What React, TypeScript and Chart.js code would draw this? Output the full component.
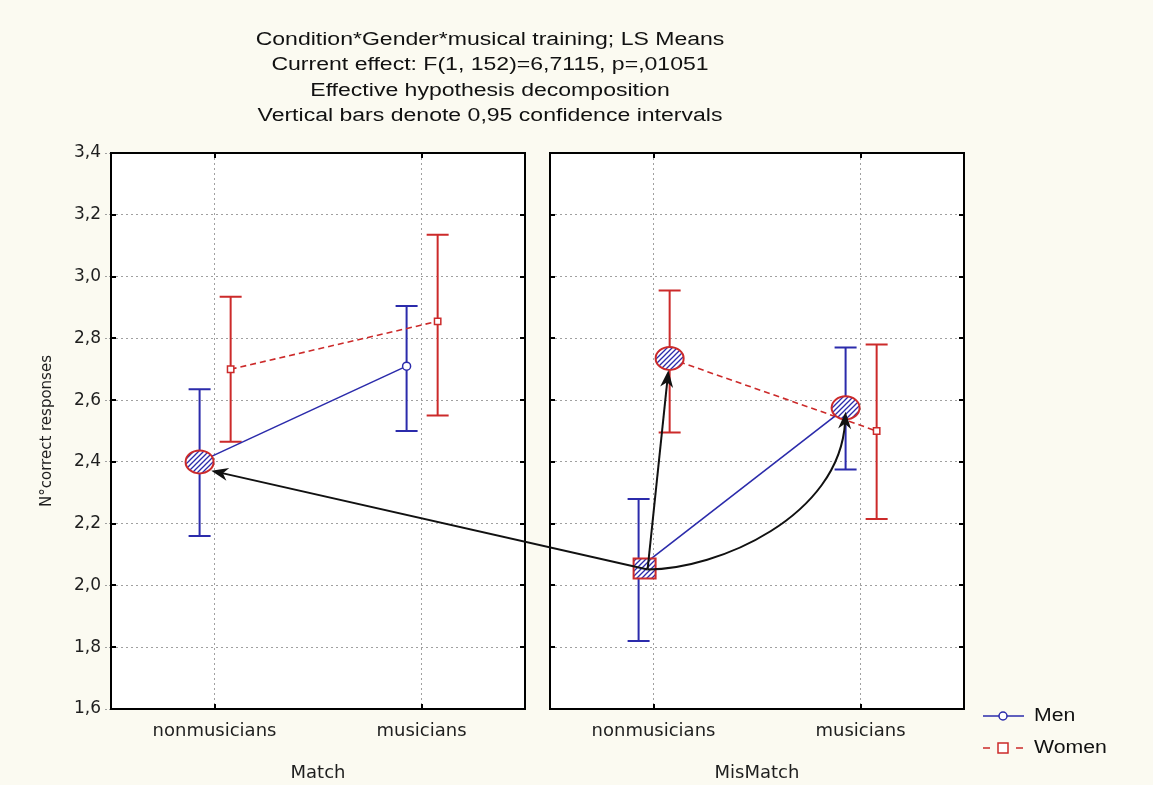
import React, { useEffect, useRef } from 'react';
import { Chart, registerables } from 'chart.js';

Chart.register(...registerables);

// ---------------- data ----------------
const TITLE_LINES = [
  'Condition*Gender*musical training; LS Means',
  'Current effect: F(1, 152)=6,7115, p=,01051',
  'Effective hypothesis decomposition',
  'Vertical bars denote 0,95 confidence intervals',
];
const CATEGORIES = ['nonmusicians', 'musicians'];
const CONDITIONS = ['Match', 'MisMatch'];
const GENDERS = ['Men', 'Women'];
const Y_TICKS = [1.6, 1.8, 2.0, 2.2, 2.4, 2.6, 2.8, 3.0, 3.2, 3.4];
const Y_TITLE = 'N°correct responses';

const MEN_MATCH = [2.40, 2.71];
const MEN_MATCH_LO = [2.16, 2.50];
const MEN_MATCH_HI = [2.635, 2.905];
const WOMEN_MATCH = [2.70, 2.855];
const WOMEN_MATCH_LO = [2.465, 2.55];
const WOMEN_MATCH_HI = [2.935, 3.135];

const MEN_MISMATCH = [2.055, 2.575];
const MEN_MISMATCH_LO = [1.82, 2.375];
const MEN_MISMATCH_HI = [2.28, 2.77];
const WOMEN_MISMATCH = [2.735, 2.50];
const WOMEN_MISMATCH_LO = [2.495, 2.215];
const WOMEN_MISMATCH_HI = [2.955, 2.78];

// highlighted means (hatched markers) and arrows annotating the figure
const HIGHLIGHTS = [
  { condition: 'Match', gender: 'Men', category: 0, shape: 'circle' },
  { condition: 'MisMatch', gender: 'Women', category: 0, shape: 'circle' },
  { condition: 'MisMatch', gender: 'Men', category: 1, shape: 'circle' },
  { condition: 'MisMatch', gender: 'Men', category: 0, shape: 'square' },
];
const ARROWS = [
  { from: ['MisMatch', 'Men', 0], to: ['Match', 'Men', 0], curved: false },
  { from: ['MisMatch', 'Men', 0], to: ['MisMatch', 'Women', 0], curved: false },
  { from: ['MisMatch', 'Men', 0], to: ['MisMatch', 'Men', 1], curved: true },
];

const SERIES: any = {
  Match: {
    Men: { mean: MEN_MATCH, lo: MEN_MATCH_LO, hi: MEN_MATCH_HI },
    Women: { mean: WOMEN_MATCH, lo: WOMEN_MATCH_LO, hi: WOMEN_MATCH_HI },
  },
  MisMatch: {
    Men: { mean: MEN_MISMATCH, lo: MEN_MISMATCH_LO, hi: MEN_MISMATCH_HI },
    Women: { mean: WOMEN_MISMATCH, lo: WOMEN_MISMATCH_LO, hi: WOMEN_MISMATCH_HI },
  },
};

// ---------------- styles ----------------
const W = 1153;
const H = 785;
const BG = '#fbfaf1';
const BLUE = '#2b2bab';
const RED = '#cc2a2a';
const GRID = '#a0a0a0';
const TEXT = '#1e1e1e';
const GENDER_OFFSET: any = { Men: -0.072, Women: 0.078 };
const PANEL_TOP = 153;
const PANEL_BOTTOM = 709;
const LEFT_PANEL = [111, 525];
const RIGHT_PANEL = [550, 964];

function buildDatasets(cond: string) {
  return GENDERS.map((g) => {
    const s = SERIES[cond][g];
    const men = g === 'Men';
    const color = men ? BLUE : RED;
    return {
      label: g,
      data: s.mean.map((v: number, i: number) => ({ x: i + GENDER_OFFSET[g], y: v })),
      ciLow: s.lo,
      ciHigh: s.hi,
      borderColor: color,
      backgroundColor: '#ffffff',
      borderWidth: 1.6,
      borderDash: men ? [] : [6, 4],
      pointStyle: men ? 'circle' : 'rect',
      pointRadius: men ? 4 : 4.5,
      pointBorderWidth: 1.5,
      pointBackgroundColor: '#ffffff',
      pointBorderColor: color,
      tension: 0,
      fill: false,
    };
  });
}

function pointPx(chart: any, gender: string, cat: number) {
  const ds = chart.data.datasets.find((d: any) => d.label === gender);
  const p = ds.data[cat];
  return { x: chart.scales.x.getPixelForValue(p.x), y: chart.scales.y.getPixelForValue(p.y) };
}

function makeHatch(ctx: CanvasRenderingContext2D) {
  const c = document.createElement('canvas');
  c.width = 5;
  c.height = 5;
  const g = c.getContext('2d')!;
  g.fillStyle = '#ffffff';
  g.fillRect(0, 0, 5, 5);
  g.strokeStyle = BLUE;
  g.lineWidth = 1.3;
  g.beginPath();
  g.moveTo(0, 5);
  g.lineTo(5, 0);
  g.moveTo(-1, 1);
  g.lineTo(1, -1);
  g.moveTo(4, 6);
  g.lineTo(6, 4);
  g.stroke();
  return ctx.createPattern(c, 'repeat');
}

function stretchedText(ctx: CanvasRenderingContext2D, text: string, x: number, y: number, align: string, font: string, sx: number, color: string) {
  ctx.save();
  ctx.font = font;
  ctx.fillStyle = color;
  ctx.textBaseline = 'middle';
  ctx.textAlign = 'left';
  const w = ctx.measureText(text).width * sx;
  const left = align === 'center' ? x - w / 2 : x;
  ctx.translate(left, y);
  ctx.scale(sx, 1);
  ctx.fillText(text, 0, 0);
  ctx.restore();
}

function arrowHead(ctx: CanvasRenderingContext2D, tip: any, from: any) {
  const a = Math.atan2(tip.y - from.y, tip.x - from.x);
  const L = 17;
  const Wd = 6.5;
  const c = Math.cos(a);
  const s = Math.sin(a);
  ctx.beginPath();
  ctx.moveTo(tip.x, tip.y);
  ctx.lineTo(tip.x - L * c + Wd * s, tip.y - L * s - Wd * c);
  ctx.lineTo(tip.x - L * c * 0.7, tip.y - L * s * 0.7);
  ctx.lineTo(tip.x - L * c - Wd * s, tip.y - L * s + Wd * c);
  ctx.closePath();
  ctx.fill();
}

function panelPlugin(cond: string) {
  return {
    id: 'panel' + cond,
    beforeDraw(chart: any) {
      const { ctx, chartArea: a } = chart;
      ctx.save();
      ctx.fillStyle = '#ffffff';
      ctx.fillRect(a.left, a.top, a.right - a.left, a.bottom - a.top);
      ctx.restore();
    },
    beforeDatasetsDraw(chart: any) {
      const { ctx } = chart;
      const { x, y } = chart.scales;
      chart.data.datasets.forEach((ds: any) => {
        ds.data.forEach((p: any, i: number) => {
          const px = x.getPixelForValue(p.x);
          const yl = y.getPixelForValue(ds.ciLow[i]);
          const yh = y.getPixelForValue(ds.ciHigh[i]);
          ctx.save();
          ctx.strokeStyle = ds.borderColor;
          ctx.lineWidth = 2;
          ctx.beginPath();
          ctx.moveTo(px, yl);
          ctx.lineTo(px, yh);
          ctx.moveTo(px - 11, yl);
          ctx.lineTo(px + 11, yl);
          ctx.moveTo(px - 11, yh);
          ctx.lineTo(px + 11, yh);
          ctx.stroke();
          ctx.restore();
        });
      });
    },
    afterDatasetsDraw(chart: any) {
      const { ctx } = chart;
      const hatch = makeHatch(ctx);
      HIGHLIGHTS.filter((h) => h.condition === cond).forEach((h) => {
        const p = pointPx(chart, h.gender, h.category);
        ctx.save();
        ctx.fillStyle = hatch as any;
        ctx.strokeStyle = RED;
        ctx.lineWidth = 2;
        ctx.beginPath();
        if (h.shape === 'circle') {
          ctx.ellipse(p.x, p.y, 14, 11.5, 0, 0, Math.PI * 2);
        } else {
          ctx.rect(p.x - 5, p.y - 10, 22, 20);
        }
        ctx.fill();
        ctx.stroke();
        ctx.restore();
      });
    },
    afterDraw(chart: any) {
      const { ctx, chartArea: a } = chart;
      const { x, y } = chart.scales;
      ctx.save();
      ctx.strokeStyle = '#000';
      ctx.lineWidth = 2;
      ctx.strokeRect(a.left, a.top, a.right - a.left, a.bottom - a.top);
      ctx.beginPath();
      Y_TICKS.slice(1, -1).forEach((v) => {
        const py = Math.round(y.getPixelForValue(v));
        ctx.moveTo(a.left, py);
        ctx.lineTo(a.left + 5, py);
        ctx.moveTo(a.right, py);
        ctx.lineTo(a.right - 5, py);
      });
      CATEGORIES.forEach((_, i) => {
        const px = Math.round(x.getPixelForValue(i));
        ctx.moveTo(px, a.top);
        ctx.lineTo(px, a.top + 5);
        ctx.moveTo(px, a.bottom);
        ctx.lineTo(px, a.bottom - 5);
      });
      ctx.stroke();
      ctx.restore();
    },
  };
}

function overlayPlugin(getOther: () => any) {
  return {
    id: 'overlay',
    afterDraw(chart: any) {
      const { ctx } = chart;
      // title
      TITLE_LINES.forEach((t, i) => {
        stretchedText(ctx, t, 490, 40 + i * 25.3, 'center', '18px "Liberation Sans", Arial, sans-serif', 1.28, '#111');
      });
      // legend
      ctx.save();
      ctx.lineWidth = 1.5;
      ctx.strokeStyle = BLUE;
      ctx.beginPath();
      ctx.moveTo(983, 716);
      ctx.lineTo(1024, 716);
      ctx.stroke();
      ctx.fillStyle = '#fff';
      ctx.beginPath();
      ctx.arc(1003, 716, 4, 0, Math.PI * 2);
      ctx.fill();
      ctx.stroke();
      ctx.strokeStyle = RED;
      ctx.beginPath();
      ctx.moveTo(983, 748);
      ctx.lineTo(990, 748);
      ctx.moveTo(1016, 748);
      ctx.lineTo(1023, 748);
      ctx.stroke();
      ctx.fillRect(998, 743, 10, 10);
      ctx.strokeRect(998, 743, 10, 10);
      ctx.restore();
      stretchedText(ctx, 'Men', 1034, 716, 'left', '18px "Liberation Sans", Arial, sans-serif', 1.18, '#111');
      stretchedText(ctx, 'Women', 1034, 748, 'left', '18px "Liberation Sans", Arial, sans-serif', 1.18, '#111');

      // arrows
      const other = getOther();
      const charts: any = { MisMatch: chart, Match: other };
      ctx.save();
      ctx.strokeStyle = '#111';
      ctx.fillStyle = '#111';
      ctx.lineWidth = 2;
      ARROWS.forEach((ar) => {
        const f = pointPx(charts[ar.from[0] as string], ar.from[1] as string, ar.from[2] as number);
        const t = pointPx(charts[ar.to[0] as string], ar.to[1] as string, ar.to[2] as number);
        const start = { x: f.x + 9, y: f.y + 1 };
        if (!ar.curved) {
          const dx = start.x - t.x;
          const dy = start.y - t.y;
          const len = Math.hypot(dx, dy);
          const tip = { x: t.x + (dx / len) * 12, y: t.y + (dy / len) * 12 + (Math.abs(dx) > Math.abs(dy) ? 6 : 0) };
          const a = Math.atan2(tip.y - start.y, tip.x - start.x);
          ctx.beginPath();
          ctx.moveTo(start.x, start.y);
          ctx.lineTo(tip.x - Math.cos(a) * 10, tip.y - Math.sin(a) * 10);
          ctx.stroke();
          arrowHead(ctx, tip, start);
        } else {
          const tip = { x: t.x, y: t.y + 4 };
          const c1 = { x: start.x + 70, y: start.y };
          const c2 = { x: tip.x - 6, y: tip.y + 105 };
          ctx.beginPath();
          ctx.moveTo(start.x, start.y);
          ctx.bezierCurveTo(c1.x, c1.y, c2.x, c2.y, tip.x - 0.5, tip.y + 10);
          ctx.stroke();
          arrowHead(ctx, tip, c2);
        }
      });
      ctx.restore();
    },
  };
}

function buildConfig(cond: string, isLeft: boolean, plugins: any[]) {
  const panel = isLeft ? LEFT_PANEL : RIGHT_PANEL;
  return {
    type: 'line',
    data: { datasets: buildDatasets(cond) },
    options: {
      responsive: false,
      animation: false,
      devicePixelRatio: 1,
      layout: { padding: { left: 0, right: W - panel[1], top: PANEL_TOP, bottom: 0 } },
      plugins: {
        legend: { display: false },
        tooltip: { enabled: false },
        title: { display: false },
      },
      scales: {
        x: {
          type: 'linear',
          min: -0.5,
          max: 1.5,
          afterBuildTicks: (s: any) => {
            s.ticks = CATEGORIES.map((_, i) => ({ value: i }));
          },
          afterFit: (s: any) => {
            s.height = H - PANEL_BOTTOM;
          },
          ticks: {
            autoSkip: false,
            maxRotation: 0,
            callback: (v: any) => CATEGORIES[Number(v)],
            font: { family: '"DejaVu Sans", sans-serif', size: 18 },
            color: TEXT,
            padding: 12,
          },
          grid: { color: GRID, lineWidth: 1, drawTicks: false },
          border: { display: false, dash: [2, 3] },
          title: {
            display: true,
            text: cond,
            font: { family: '"DejaVu Sans", sans-serif', size: 18 },
            color: TEXT,
            padding: { top: 4, bottom: 1 },
          },
        },
        y: {
          min: 1.6,
          max: 3.4,
          afterBuildTicks: (s: any) => {
            s.ticks = Y_TICKS.map((v) => ({ value: v }));
          },
          afterFit: (s: any) => {
            s.width = panel[0];
          },
          ticks: {
            display: isLeft,
            callback: (v: any) => Number(v).toFixed(1).replace('.', ','),
            font: { family: '"DejaVu Sans", sans-serif', size: 17 },
            color: TEXT,
            padding: 4,
          },
          grid: {
            color: GRID,
            lineWidth: 1,
            drawTicks: isLeft,
            tickLength: 6,
            tickColor: GRID,
            tickBorderDash: [2, 2],
          },
          border: { display: false, dash: [2, 3] },
          title: {
            display: isLeft,
            text: Y_TITLE,
            font: { family: '"DejaVu Sans", sans-serif', size: 15 },
            color: TEXT,
            padding: { top: 38, bottom: 0 },
          },
        },
      },
    },
    plugins,
  } as any;
}

export default function App() {
  const aRef = useRef<HTMLCanvasElement>(null);
  const bRef = useRef<HTMLCanvasElement>(null);

  useEffect(() => {
    const chartA = new Chart(aRef.current!, buildConfig(CONDITIONS[0], true, [panelPlugin(CONDITIONS[0])]));
    const chartB = new Chart(
      bRef.current!,
      buildConfig(CONDITIONS[1], false, [panelPlugin(CONDITIONS[1]), overlayPlugin(() => chartA)])
    );
    return () => {
      chartB.destroy();
      chartA.destroy();
    };
  }, []);

  return (
    <div style={{ position: 'fixed', left: 0, top: 0, width: W, height: H, background: BG, overflow: 'hidden' }}>
      <canvas ref={aRef} width={W} height={H} style={{ position: 'absolute', left: 0, top: 0 }} />
      <canvas ref={bRef} width={W} height={H} style={{ position: 'absolute', left: 0, top: 0 }} />
    </div>
  );
}
